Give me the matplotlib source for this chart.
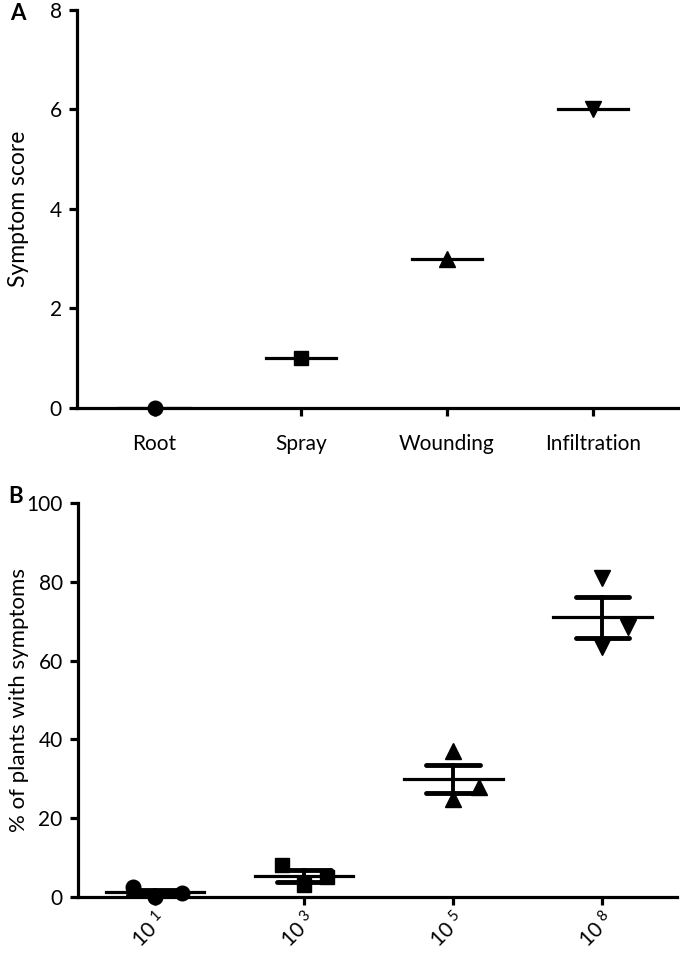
import numpy as np
import matplotlib.pyplot as plt

plt.rcParams['font.family'] = ['Lato', 'DejaVu Sans']
plt.rcParams['mathtext.fontset'] = 'custom'
plt.rcParams['mathtext.rm'] = 'Lato'

# panel A
routes = ['Root', 'Spray', 'Wounding', 'Infiltration']
scores = [0, 1, 3, 6]
markers_a = ['o', 's', '^', 'v']

# panel B
doses = [r'10 $\mathregular{^1}$', r'10 $\mathregular{^3}$', r'10 $\mathregular{^5}$', r'10 $\mathregular{^8}$']
pct_1e1 = [2.5, 0, 1]
pct_1e3 = [8, 3, 5]
pct_1e5 = [37, 25, 28]
pct_1e8 = [81, 63.5, 68.5]
groups = [pct_1e1, pct_1e3, pct_1e5, pct_1e8]
markers_b = ['o', 's', '^', 'v']

LW = 2.3
W, H = 680, 958
fig = plt.figure(figsize=(W / 100, H / 100), dpi=100)


def style(ax):
    for s in ['top', 'right']:
        ax.spines[s].set_visible(False)
    for s in ['left', 'bottom']:
        ax.spines[s].set_linewidth(LW)
    ax.tick_params(width=LW, length=6, labelsize=15, pad=5)


# ---- A
ax = fig.add_axes([77 / W, 1 - 408 / H, (678 - 77) / W, 398 / H])
style(ax)
for i, (v, m) in enumerate(zip(scores, markers_a)):
    ax.plot([i - 0.24, i + 0.24], [v, v], color='k', lw=LW, zorder=2)
    ms = 10.5 if m in 'os' else 11.5
    ax.plot(i, v, marker=m, ms=ms, color='k', ls='none', zorder=3, clip_on=False)
ax.set_xlim(-0.53, 3.58)
ax.set_ylim(0, 8)
ax.set_yticks([0, 2, 4, 6, 8])
ax.set_xticks(range(4))
ax.set_xticklabels(routes)
ax.tick_params(axis='x', pad=13)
ax.set_ylabel('Symptom score', fontsize=16.5)
ax.yaxis.set_label_coords(-0.08, 0.5)
fig.text(10 / W, 1 - 14 / H, 'A', fontsize=16, fontweight='bold', va='center', ha='left')

# ---- B
ax = fig.add_axes([78 / W, 1 - 897 / H, (677 - 78) / W, 394 / H])
style(ax)
jitter = [[-0.15, 0, 0.18], [-0.15, 0, 0.15], [0, 0, 0.17], [0, 0, 0.17]]
for i, (vals, m) in enumerate(zip(groups, markers_b)):
    vals = np.array(vals, dtype=float)
    mu = vals.mean()
    sem = vals.std(ddof=1) / np.sqrt(len(vals))
    ax.plot([i - 0.33, i + 0.33], [mu, mu], color='k', lw=LW, zorder=2)
    ax.plot([i, i], [mu - sem, mu + sem], color='k', lw=LW + 0.5, zorder=2)
    for y in (mu - sem, mu + sem):
        ax.plot([i - 0.18, i + 0.18], [y, y], color='k', lw=LW + 1.2,
                solid_capstyle='round', zorder=2)
    ms = 10.5 if m in 'os' else 11.5
    ax.plot(i + np.array(jitter[i]), vals, marker=m, ms=ms, color='k', ls='none',
            zorder=3, clip_on=False)
ax.set_xlim(-0.517, 3.5)
ax.set_ylim(0, 100)
ax.set_yticks([0, 20, 40, 60, 80, 100])
ax.set_xticks(range(4))
ax.set_xticklabels(doses, rotation=45, ha='right', rotation_mode='anchor')
ax.tick_params(axis='x', pad=2)
ax.set_ylabel('% of plants with symptoms', fontsize=16)
ax.yaxis.set_label_coords(-0.082, 0.5)
fig.text(8 / W, 1 - 497 / H, 'B', fontsize=16, fontweight='bold', va='center', ha='left')

fig.savefig('out.png', dpi=100)
